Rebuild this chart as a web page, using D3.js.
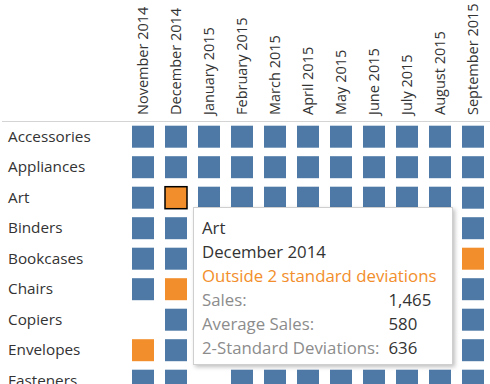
<!DOCTYPE html>
<html>
<head>
<meta charset="utf-8">
<script src="https://cdn.jsdelivr.net/npm/d3@7"></script>
<style>
  body { margin:0; background:#fff; }
  text { font-family: "Open Sans", Lato, sans-serif; }
</style>
</head>
<body>
<svg id="board" width="490" height="384"></svg>
<script>
// rows and columns
var categories = ["Accessories","Appliances","Art","Binders","Bookcases","Chairs","Copiers","Envelopes","Fasteners"];
var months = ["November 2014","December 2014","January 2015","February 2015","March 2015","April 2015",
              "May 2015","June 2015","July 2015","August 2015","September 2015"];

// 0 = no sales, 1 = within 2 std dev, 2 = outside 2 std dev
var accessories = [1,1,1,1,1,1,1,1,1,1,1];
var appliances  = [1,1,1,1,1,1,1,1,1,1,1];
var art         = [1,2,1,1,1,1,1,1,1,1,1];
var binders     = [1,1,1,1,1,1,1,1,1,1,1];
var bookcases   = [1,1,1,1,1,1,1,1,1,1,2];
var chairs      = [1,2,1,1,1,1,1,1,1,1,1];
var copiers     = [0,1,1,1,1,1,1,1,1,1,1];
var envelopes   = [2,1,1,1,1,1,1,1,1,1,1];
var fasteners   = [1,1,0,1,1,1,1,1,1,1,1];
var grid = [accessories,appliances,art,binders,bookcases,chairs,copiers,envelopes,fasteners];

// tooltip content
var tipTitle = "Art";
var tipMonth = "December 2014";
var tipNote = "Outside 2 standard deviations";
var tipLabels = ["Sales:","Average Sales:","2-Standard Deviations:"];
var tipValues = [1465, 580, 636];

var board = d3.select("#board");
var fmt = d3.format(",");

var x = d3.scaleBand().domain(months).range([121, 121 + 33*(11 + 1/3)]).padding(1/3);
var y = d3.scaleBand().domain(categories).range([117.2, 117.2 + 30.5*(9 + 0.2787)]).padding(0.2787);

// header separator
board.append("line")
    .attr("x1",2).attr("x2",490)
    .attr("y1",121.5).attr("y2",121.5)
    .attr("stroke","#d4d4d4").attr("stroke-width",1);

// column headers
board.selectAll("text.col").data(months).enter().append("text")
    .attr("class","col")
    .attr("transform",function(d){ return "translate(" + (x(d) + x.bandwidth()/2 + 5) + ",115) rotate(-90)"; })
    .attr("font-size","14.5px")
    .attr("fill","#333")
    .text(function(d){ return d; });

// row headers
board.selectAll("text.row").data(categories).enter().append("text")
    .attr("class","row")
    .attr("x",8)
    .attr("y",function(d){ return y(d) + y.bandwidth()/2 + 5; })
    .attr("font-size","15.3px")
    .attr("fill","#333")
    .text(function(d){ return d; });

// cells
var cells = [];
for(var i=0;i<categories.length;i++)
  for(var j=0;j<months.length;j++)
    if(grid[i][j] > 0)
      cells.push({cat:categories[i], month:months[j], s:grid[i][j]});

board.selectAll("rect.cell").data(cells).enter().append("rect")
    .attr("class","cell")
    .attr("x",function(d){ return x(d.month); })
    .attr("y",function(d){ return y(d.cat); })
    .attr("width",x.bandwidth())
    .attr("height",y.bandwidth())
    .attr("fill",function(d){ return d.s == 2 ? "#f28e2b" : "#4e79a7"; })
    .attr("stroke",function(d){ return (d.cat == tipTitle && d.month == tipMonth) ? "#000" : "none"; })
    .attr("stroke-width",1.5);

// tooltip
var defs = board.append("defs");
var f = defs.append("filter").attr("id","shadow").attr("x","-10%").attr("y","-10%").attr("width","130%").attr("height","130%");
f.append("feDropShadow").attr("dx",2).attr("dy",2).attr("stdDeviation",2).attr("flood-color","#000").attr("flood-opacity",0.25);

var tip = board.append("g").attr("transform","translate(193.5,207.5)");
tip.append("rect")
    .attr("width",259).attr("height",157)
    .attr("fill","#fff")
    .attr("stroke","#cfcfcf")
    .attr("filter","url(#shadow)");

var fs = "16.8px";
tip.append("text").attr("x",8.5).attr("y",26).attr("font-size",fs).attr("fill","#333").text(tipTitle);
tip.append("text").attr("x",8.5).attr("y",50).attr("font-size",fs).attr("fill","#333").text(tipMonth);
tip.append("text").attr("x",8.5).attr("y",74).attr("font-size",fs).attr("fill","#f28e2b").text(tipNote);

tip.selectAll("text.lab").data(tipLabels).enter().append("text")
    .attr("class","lab")
    .attr("x",8.5)
    .attr("y",function(d,i){ return 98 + i*24; })
    .attr("font-size",fs)
    .attr("fill","#8c8c8c")
    .text(function(d){ return d; });

tip.selectAll("text.val").data(tipValues).enter().append("text")
    .attr("class","val")
    .attr("x",195)
    .attr("y",function(d,i){ return 98 + i*24; })
    .attr("font-size",fs)
    .attr("fill","#333")
    .text(function(d){ return fmt(d); });
</script>
</body>
</html>
